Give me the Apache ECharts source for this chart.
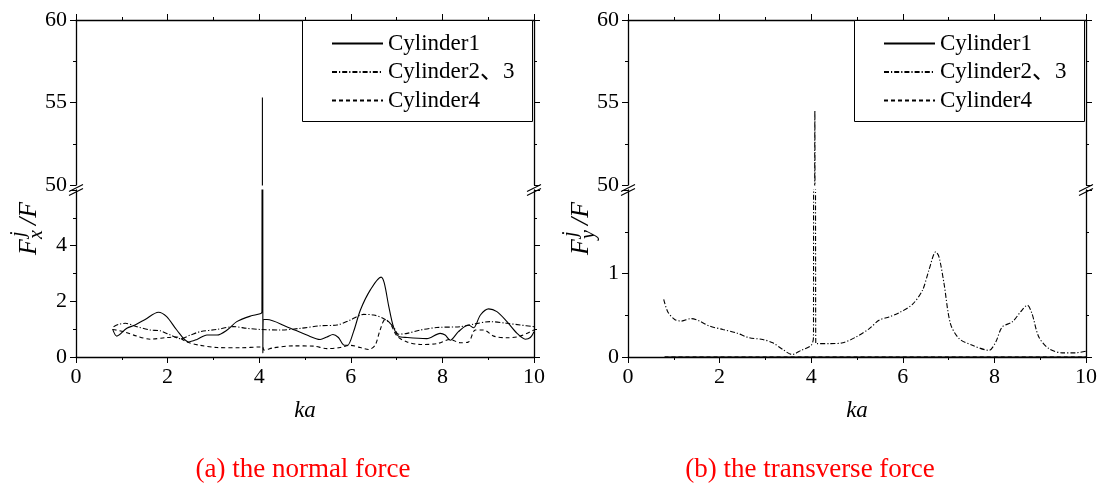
<!DOCTYPE html>
<html>
<head>
<meta charset="utf-8">
<script src="https://cdn.jsdelivr.net/npm/echarts@6/dist/echarts.min.js"></script>
<style>
  html, body { margin: 0; padding: 0; background: #fff; }
  #chart { width: 1104px; height: 493px; }
</style>
</head>
<body>
<div id="chart"></div>
<script>
const seriesNames = ["Cylinder1", "Cylinder2、3", "Cylinder4"];
const panelTitles = ["(a) the normal force", "(b) the transverse force"];
const axisComp = ["x", "y"];

// (a) normal force, [ka, Fx/F]
const cyl1Fx = [[0.8, 1.0], [0.89, 0.75], [1.11, 1.03], [1.29, 1.15], [1.51, 1.35], [1.8, 1.61], [1.98, 1.45], [2.2, 0.97], [2.46, 0.54], [2.64, 0.63], [2.86, 0.79], [3.08, 0.79], [3.3, 0.97], [3.51, 1.27], [3.81, 1.47], [4.02, 1.55], [4.06, 1.63], [4.07, 55.3], [4.08, 0.15], [4.1, 1.35], [4.17, 1.35], [4.6, 1.09], [5.04, 0.79], [5.33, 0.63], [5.48, 0.72], [5.61, 0.81], [5.73, 0.7], [5.86, 0.42], [5.93, 0.42], [6.06, 0.91], [6.21, 1.69], [6.43, 2.42], [6.66, 2.87], [6.73, 2.66], [6.83, 1.81], [6.93, 1.09], [7.04, 0.75], [7.23, 0.7], [7.66, 0.66], [7.95, 0.85], [8.06, 0.79], [8.17, 0.6], [8.35, 0.91], [8.57, 1.15], [8.68, 1.05], [8.83, 1.51], [9.01, 1.73], [9.19, 1.63], [9.41, 1.27], [9.63, 0.85], [9.81, 0.64], [9.92, 0.7], [10, 0.91]];
const cyl23Fx = [[0.82, 1.09], [0.93, 1.17], [1.08, 1.21], [1.33, 1.09], [1.62, 0.97], [1.84, 0.94], [2.06, 0.79], [2.28, 0.66], [2.5, 0.79], [2.71, 0.91], [3.08, 0.99], [3.44, 1.09], [3.73, 1.03], [4.02, 0.99], [4.46, 0.97], [4.9, 1.03], [5.33, 1.12], [5.7, 1.15], [5.99, 1.33], [6.28, 1.53], [6.5, 1.51], [6.75, 1.35], [6.93, 1.09], [7.04, 0.82], [7.23, 0.85], [7.52, 0.97], [7.88, 1.06], [8.39, 1.09], [8.68, 1.18], [9.04, 1.27], [9.41, 1.21], [9.7, 1.15], [10, 1.09]];
const cyl4Fx = [[0.8, 0.99], [1.04, 0.91], [1.33, 0.75], [1.62, 0.64], [1.98, 0.7], [2.2, 0.72], [2.42, 0.54], [2.71, 0.42], [3.08, 0.34], [3.59, 0.33], [4.02, 0.36], [4.08, 0.36], [4.1, 0.25], [4.31, 0.33], [4.75, 0.4], [5.19, 0.39], [5.48, 0.3], [5.77, 0.34], [5.99, 0.42], [6.21, 0.34], [6.39, 0.27], [6.53, 0.42], [6.64, 0.97], [6.75, 1.35], [6.86, 1.21], [7.01, 0.75], [7.23, 0.54], [7.52, 0.45], [7.88, 0.48], [8.17, 0.63], [8.39, 0.51], [8.57, 0.54], [8.72, 0.97], [8.9, 0.97], [9.12, 0.75], [9.41, 0.69], [9.7, 0.75], [10, 0.97]];

// (b) transverse force, [ka, Fy/F]
const cyl1Fy = [[0.8, 0], [10, 0]];
const cyl23Fy = [[0.78, 0.69], [0.87, 0.54], [1.02, 0.45], [1.16, 0.43], [1.38, 0.46], [1.56, 0.43], [1.78, 0.37], [2.07, 0.33], [2.36, 0.29], [2.65, 0.23], [2.94, 0.21], [3.16, 0.17], [3.38, 0.09], [3.58, 0.03], [3.78, 0.08], [4.0, 0.14], [4.05, 0.24], [4.08, 54.5], [4.1, 0.16], [4.39, 0.16], [4.69, 0.17], [4.98, 0.24], [5.27, 0.34], [5.48, 0.44], [5.7, 0.48], [5.92, 0.53], [6.21, 0.63], [6.43, 0.8], [6.57, 1.04], [6.72, 1.26], [6.79, 1.2], [6.9, 0.88], [7.04, 0.4], [7.23, 0.22], [7.52, 0.14], [7.88, 0.08], [8.03, 0.18], [8.17, 0.36], [8.39, 0.42], [8.57, 0.54], [8.72, 0.62], [8.82, 0.52], [8.97, 0.24], [9.19, 0.1], [9.48, 0.05], [9.77, 0.05], [10, 0.07]];
const cyl4Fy = [[0.8, 0], [10, 0]];

const panelData = [
  [cyl1Fx, cyl23Fx, cyl4Fx],
  [cyl1Fy, cyl23Fy, cyl4Fy],
];
const upperRange = [50, 60, 5];
const lowerRanges = [[0, 6, 2], [0, 2, 1]];

const font = "'Liberation Serif', 'Noto Sans CJK SC', serif";
const lineTypes = ["solid", [5, 2, 1.2, 2], [4, 3]];
const panelLeft = [76, 628];
const panelWidth = 458;
const upperTop = 20, upperH = 165, lowerTop = 190, lowerH = 167;

const axisLine = { lineStyle: { color: "#000", width: 1.3 } };
const tickStyle = { color: "#000", width: 1 };

const grid = [], xAxis = [], yAxis = [], series = [], graphic = [], legend = [];

function valueAxis(extra) {
  return Object.assign({
    type: "value",
    axisLine: Object.assign({ show: true, onZero: false }, axisLine),
    axisTick: { show: true, inside: false, length: 6, lineStyle: tickStyle },
    minorTick: { show: true, splitNumber: 2, length: 3, lineStyle: tickStyle },
    splitLine: { show: false },
    minorSplitLine: { show: false },
    axisLabel: { show: false, color: "#000", fontFamily: font, fontSize: 22 },
  }, extra);
}

panelLeft.forEach((left, p) => {
  const low = lowerRanges[p];
  const g0 = grid.length;
  grid.push({ left: left, top: upperTop, width: panelWidth, height: upperH, outerBoundsMode: "none" });
  grid.push({ left: left, top: lowerTop, width: panelWidth, height: lowerH, outerBoundsMode: "none" });

  const x0 = xAxis.length;
  xAxis.push(valueAxis({ gridIndex: g0, position: "top", min: 0, max: 10, interval: 2 }));
  xAxis.push(valueAxis({
    gridIndex: g0 + 1, position: "bottom", min: 0, max: 10, interval: 2,
    axisLabel: { show: true, color: "#000", fontFamily: font, fontSize: 22, margin: 9 },
    name: "ka", nameLocation: "middle", nameGap: 42,
    nameTextStyle: { color: "#000", fontFamily: font, fontSize: 23, fontStyle: "italic" },
  }));

  const y0 = yAxis.length;
  yAxis.push(valueAxis({
    gridIndex: g0, position: "left", min: upperRange[0], max: upperRange[1], interval: upperRange[2],
    axisLabel: { show: true, color: "#000", fontFamily: font, fontSize: 22, margin: 9 },
  }));
  yAxis.push(valueAxis({ gridIndex: g0, position: "right", min: upperRange[0], max: upperRange[1], interval: upperRange[2] }));
  yAxis.push(valueAxis({
    gridIndex: g0 + 1, position: "left", min: low[0], max: low[1], interval: low[2],
    axisLabel: { show: true, showMaxLabel: false, color: "#000", fontFamily: font, fontSize: 22, margin: 9 },
  }));
  yAxis.push(valueAxis({ gridIndex: g0 + 1, position: "right", min: low[0], max: low[1], interval: low[2] }));

  // each curve drawn in both halves of the broken axis
  panelData[p].forEach((pts, i) => {
    [0, 1].forEach((half) => {
      series.push({
        name: seriesNames[i],
        type: "line",
        xAxisIndex: x0 + half,
        yAxisIndex: y0 + half * 2,
        data: pts,
        symbol: "none",
        smooth: 0.3,
        clip: true,
        lineStyle: { color: "#000", width: 1.1, type: lineTypes[i] },
        itemStyle: { color: "#000" },
        z: 3 - i,
      });
    });
  });

  // legend frame + legend
  graphic.push({
    type: "rect", left: left + 226, top: 20,
    shape: { width: 230, height: 101 },
    style: { fill: "#fff", stroke: "#000", lineWidth: 1 }, z: 10,
  });
  legend.push({
    left: left + 255, top: 32, orient: "vertical", padding: 0,
    itemWidth: 51, itemHeight: 12, itemGap: 5.5,
    data: seriesNames, z: 11,
    itemStyle: { color: "rgba(0,0,0,0)", borderColor: "rgba(0,0,0,0)", borderWidth: 0 },
    textStyle: { color: "#000", fontFamily: font, fontSize: 23, lineHeight: 22 },
  });

  // axis break marks on both sides
  [left, left + panelWidth].forEach((bx) => {
    graphic.push({
      type: "group", x: bx, y: 187.5, z: 12,
      children: [
        { type: "polygon", shape: { points: [[-7, 4], [7, -4], [7, 1], [-7, 7]] }, style: { fill: "#fff" } },
        { type: "line", shape: { x1: -7, y1: 4, x2: 7, y2: -3 }, style: { stroke: "#000", lineWidth: 1.2 } },
        { type: "line", shape: { x1: -7, y1: 8, x2: 7, y2: 1 }, style: { stroke: "#000", lineWidth: 1.2 } },
      ],
    });
  });

  // y axis title F^j_x / F
  const italic = { fill: "#000", fontFamily: font, fontStyle: "italic", verticalAlign: "middle" };
  graphic.push({
    type: "group", x: left - 47, y: 215, rotation: Math.PI / 2,
    children: [
      { type: "text", x: -40, y: 0, style: Object.assign({ text: "F", fontSize: 26 }, italic) },
      { type: "text", x: -22, y: -10, style: Object.assign({ text: "j", fontSize: 20 }, italic) },
      { type: "text", x: -24, y: 8, style: Object.assign({ text: axisComp[p], fontSize: 20 }, italic) },
      { type: "text", x: -10, y: 0, style: Object.assign({ text: "/F", fontSize: 26 }, italic) },
    ],
  });

  graphic.push({
    type: "text", x: left + (p === 0 ? 227 : 182), y: 470,
    style: { text: panelTitles[p], fill: "#ff0000", fontFamily: font, fontSize: 27, align: "center", verticalAlign: "middle" },
  });
});

echarts.init(document.querySelector("#chart")).setOption({
  backgroundColor: "#fff",
  animation: false,
  grid: grid,
  xAxis: xAxis,
  yAxis: yAxis,
  legend: legend,
  series: series,
  graphic: graphic,
});
</script>
</body>
</html>
